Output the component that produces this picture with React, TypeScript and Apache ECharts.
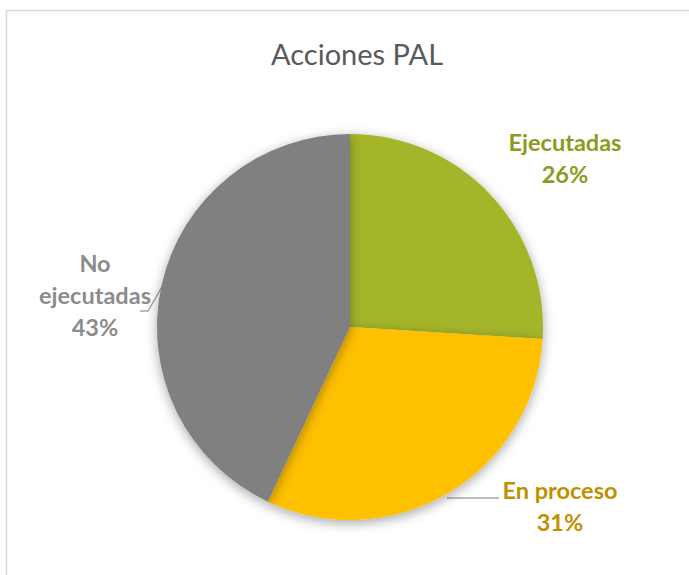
import React, { useEffect, useRef } from "react";
import * as echarts from "echarts";

const categories = ["Ejecutadas", "En proceso", "No ejecutadas"];
const labelTexts = ["Ejecutadas", "En proceso", "No\nejecutadas"];
const values = [26, 31, 43];
const sliceColors = ["#A5B52A", "#FFC000", "#808080"];
const labelColors = ["#8C9B1E", "#BF9000", "#8C8C8C"];

export default function App() {
  const ref = useRef<HTMLDivElement>(null);
  useEffect(() => {
    if (!ref.current) return;
    const chart = echarts.init(ref.current, null, { renderer: "svg" });
    const labelPos = [
      { x: 565, y: 158, pts: null },
      { x: 560, y: 506, pts: [[447, 498], [447, 498], [499, 498]] },
      { x: 95, y: 295, pts: [[163, 285], [148, 311], [140, 311]] },
    ];
    chart.setOption({
      animation: false,
      backgroundColor: "#ffffff",
      title: {
        text: "Acciones PAL",
        left: 266,
        top: 34,
        textStyle: {
          fontFamily: "Lato",
          fontWeight: "normal",
          fontSize: 29,
          color: "#595959",
        },
      },
      graphic: [
        {
          type: "rect",
          shape: { x: 6.5, y: 10.5, width: 720, height: 620 },
          style: { fill: "none", stroke: "#D9D9D9", lineWidth: 1.5 },
          silent: true,
        },
      ],
      series: [
        {
          type: "pie",
          center: [350, 327],
          radius: [0, 193],
          startAngle: 90,
          clockwise: true,
          itemStyle: {
            borderWidth: 0,
            shadowBlur: 12,
            shadowColor: "rgba(0,0,0,0.35)",
            shadowOffsetY: 3,
          },
          label: {
            show: true,
            position: "outside",
            fontFamily: "Lato",
            fontWeight: "bold",
            fontSize: 23.5,
            lineHeight: 32,
            align: "center",
            overflow: "none",
            formatter: (p: any) => `${labelTexts[p.dataIndex]}\n${Math.round(p.percent)}%`,
          },
          labelLine: {
            show: true,
            lineStyle: { color: "#A6A6A6", width: 1.5 },
          },
          labelLayout: (params: any) => {
            const lp = labelPos[params.dataIndex];
            const r: any = {
              x: lp.x,
              y: lp.y,
              align: "center",
              verticalAlign: "middle",
            };
            if (lp.pts) r.labelLinePoints = lp.pts;
            return r;
          },
          data: categories.map((name, i) => ({
            name,
            value: values[i],
            itemStyle: { color: sliceColors[i] },
            label: { color: labelColors[i] },
            labelLine: { show: i !== 0 },
          })),
        },
      ],
    });
    return () => chart.dispose();
  }, []);
  return (
    <div
      ref={ref}
      style={{ position: "absolute", left: 0, top: 0, width: 689, height: 575 }}
    />
  );
}
